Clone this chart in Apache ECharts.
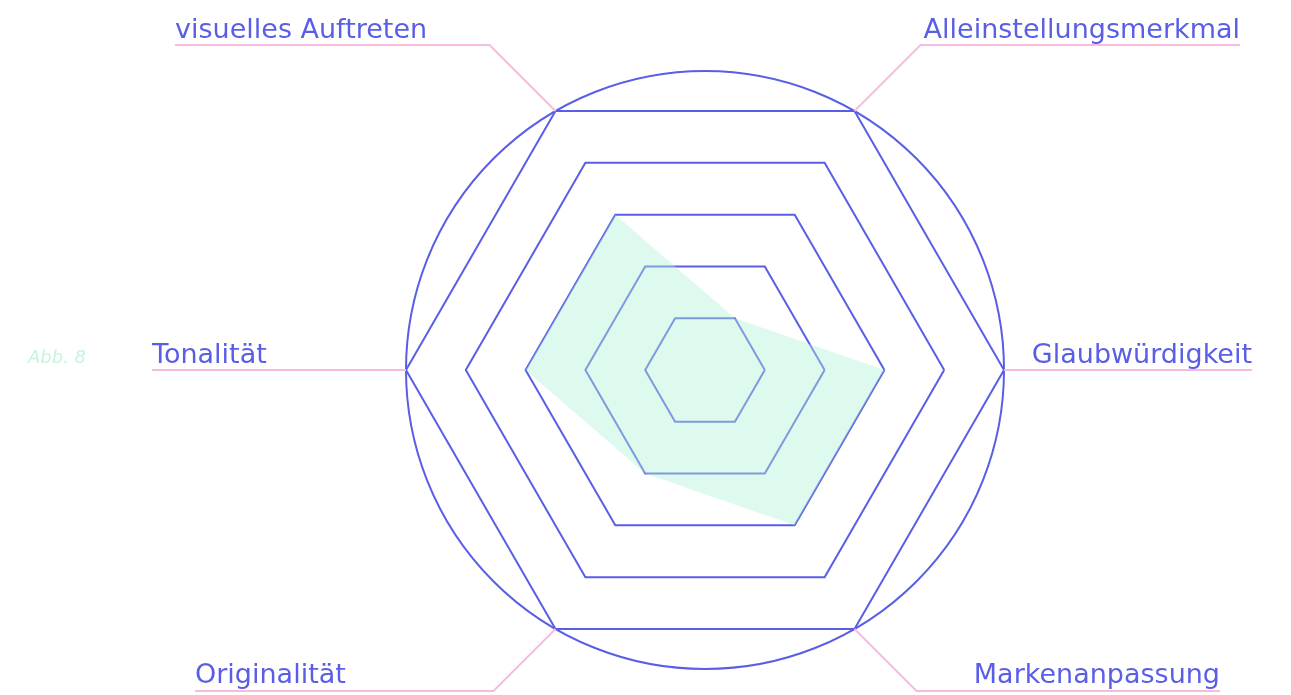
<!DOCTYPE html>
<html>
<head>
<meta charset="utf-8">
<script src="https://cdn.jsdelivr.net/npm/echarts@6/dist/echarts.min.js"></script>
<style>
  html, body { margin: 0; padding: 0; background: #fff; }
  #chart { width: 1291px; height: 695px; }
</style>
</head>
<body>
<div id="chart"></div>
<script>
// indicators, counter-clockwise from the right (startAngle 0)
var indicators = ['Glaubwürdigkeit', 'Alleinstellungsmerkmal', 'visuelles Auftreten', 'Tonalität', 'Originalität', 'Markenanpassung'];
var scores = [3, 1, 3, 3, 2, 3];
var maxScore = 5;

var blue = '#5a5ee6';
var pink = '#f6bce0';
var cx = 705, cy = 370, R = 299;

var chart = echarts.init(document.getElementById('chart'));

// leader lines + labels, worked out from the radar layout
function leaderGraphics() {
    var els = [];
    indicators.forEach(function (name, i) {
        var a = i * Math.PI / 3;
        var c = Math.cos(a), s = Math.sin(a);
        var vx = cx + R * c, vy = cy - R * s;
        var pts, endX, lineY;
        if (Math.abs(s) < 0.01) {
            endX = cx + (c > 0 ? 547 : -553);
            lineY = vy;
            pts = [[vx, vy], [endX, vy]];
        } else {
            var rise = s > 0 ? 66 : 62;
            var reach;
            if (s > 0) reach = c > 0 ? 535 : -530;
            else reach = c > 0 ? 515 : -510;
            var ex = vx + (c > 0 ? rise : -rise);
            lineY = vy + (s > 0 ? -rise : rise);
            endX = cx + reach;
            pts = [[vx, vy], [ex, lineY], [endX, lineY]];
        }
        els.push({
            type: 'polyline',
            shape: { points: pts },
            style: { stroke: pink, lineWidth: 2, fill: null },
            z: 1
        });
        els.push({
            type: 'text',
            x: endX,
            y: lineY - 1,
            style: {
                text: name,
                fill: blue,
                font: '27px "DejaVu Sans"',
                align: c > 0.01 ? 'right' : 'left',
                verticalAlign: 'bottom'
            },
            z: 2
        });
    });
    return els;
}

var option = {
    backgroundColor: '#fff',
    title: {
        text: 'Abb. 8',
        left: 23,
        top: 344,
        textStyle: { color: '#c6f4de', fontSize: 18, fontStyle: 'italic', fontWeight: 'normal', fontFamily: 'DejaVu Sans' }
    },
    radar: [{
        center: [cx, cy],
        radius: R,
        startAngle: 0,
        shape: 'polygon',
        splitNumber: 5,
        indicator: indicators.map(function (n) { return { name: n, min: 0, max: maxScore }; }),
        axisName: { show: false },
        axisLine: { show: false },
        axisTick: { show: false },
        axisLabel: { show: false },
        splitArea: { show: false },
        splitLine: { lineStyle: { color: blue, width: 2 } }
    }, {
        // outer circle
        center: [cx, cy],
        radius: R,
        startAngle: 0,
        shape: 'circle',
        splitNumber: 1,
        indicator: indicators.map(function (n) { return { name: n, min: 0, max: maxScore }; }),
        axisName: { show: false },
        axisLine: { show: false },
        axisTick: { show: false },
        axisLabel: { show: false },
        splitArea: { show: false },
        splitLine: { lineStyle: { color: blue, width: 2 } }
    }],
    series: [{
        type: 'radar',
        radarIndex: 0,
        symbol: 'none',
        silent: true,
        lineStyle: { width: 0 },
        areaStyle: { color: 'rgba(176,240,212,0.6)' },
        data: [{ value: scores, name: 'Bewertung' }]
    }],
    graphic: leaderGraphics()
};

chart.setOption(option);
</script>
</body>
</html>
